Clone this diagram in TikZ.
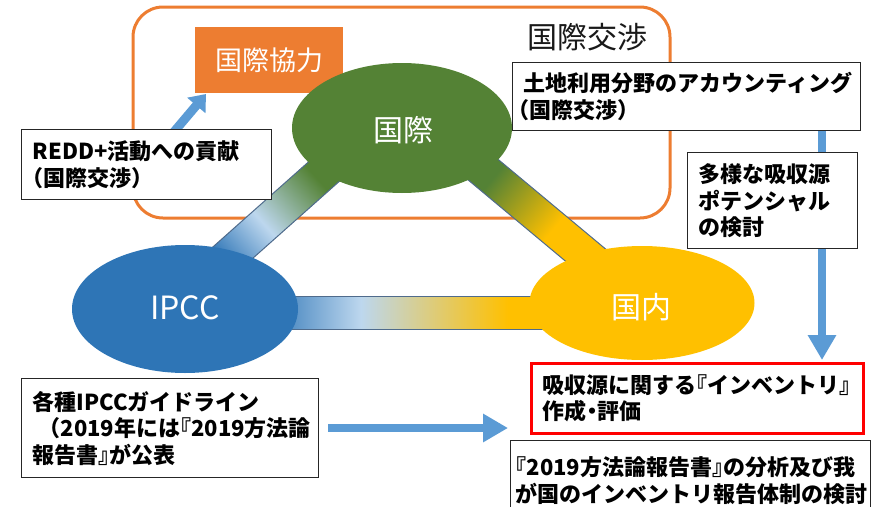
\documentclass[tikz,border=0pt]{standalone}
\usepackage{fontspec}
\setmainfont{Noto Sans CJK JP}
\usetikzlibrary{shapes.geometric,arrows.meta,calc}
\definecolor{orangeC}{HTML}{ED7D31}
\definecolor{greenC}{HTML}{548235}
\definecolor{blueC}{HTML}{2E75B6}
\definecolor{yellowC}{HTML}{FFC000}
\definecolor{lightC}{HTML}{BDD7EE}
\definecolor{arrowC}{HTML}{5B9BD5}
\definecolor{bandedgeC}{HTML}{4F6B8C}
\definecolor{boxedgeC}{HTML}{262626}
\pgfdeclarehorizontalshading{bandH}{100bp}{color(0bp)=(blueC); color(35bp)=(blueC); color(45bp)=(lightC); color(60bp)=(yellowC); color(100bp)=(yellowC)}
\pgfdeclarehorizontalshading{bandL}{100bp}{color(0bp)=(blueC); color(37bp)=(blueC); color(46bp)=(lightC); color(57bp)=(greenC); color(100bp)=(greenC)}
\pgfdeclarehorizontalshading{bandR}{100bp}{color(0bp)=(greenC); color(43bp)=(greenC); color(55bp)=(yellowC); color(100bp)=(yellowC)}
\pgfdeclarelayer{arrowlayer}
\pgfsetlayers{arrowlayer,main}
\newcommand\hw[1]{{\addfontfeature{RawFeature=+halt}#1}}
\begin{document}
\begin{tikzpicture}[x=1pt,y=-1pt,
  txtbox/.style={draw=boxedgeC, line width=1.4pt, fill=white, align=left,
    inner xsep=11pt, inner ysep=0pt, anchor=north west,
    font=\fontsize{22}{26.5}\selectfont\bfseries},
  oval/.style={ellipse, inner sep=0pt},
  ovaltext/.style={text=white, inner sep=0pt, font=\fontsize{30}{36}\selectfont},
  bluearrow/.style={draw=arrowC, line width=8.5pt, -{Triangle[length=25pt,width=27pt]}},
  bandstyle/.style={draw=bandedgeC, line width=1pt}
]
\useasboundingbox (0,0) rectangle (896,506);
% frame of international negotiation
\draw[orangeC, line width=3pt, rounded corners=30pt] (133,7) rectangle (670,218);
\node[font=\fontsize{30}{36}\selectfont, text=black!90, inner sep=0pt] (title) at (587,37) {国際交渉};
\node[fill=orangeC, minimum width=148pt, minimum height=66pt, anchor=north west,
  inner sep=0pt, text=white, font=\fontsize{27}{32}\selectfont] (coop) at (195,27) {国際協力};
% triangle bands
\coordinate (vL) at (165,313);
\coordinate (vT) at (402,102);
\coordinate (vR) at (655,313);
\begin{scope}[transform canvas={shift={(vL)}, rotate=41.66}]
  \shade[shading=bandL, bandstyle] (0,-17.5) rectangle (317,17.5);
\end{scope}
\begin{scope}[transform canvas={shift={(vT)}, rotate=-39.83}]
  \shade[shading=bandR, bandstyle] (0,-17.5) rectangle (329,17.5);
\end{scope}
\shade[shading=bandH, bandstyle] ($(vL)+(0,-16.5)$) rectangle ($(vR)+(0,16.5)$);
% ellipses
\node[oval, fill=greenC, minimum width=220pt, minimum height=130pt] (kok) at (402,128) {};
\node[ovaltext] (kokt) at (403,130) {国際};
\node[oval, fill=blueC, minimum width=226pt, minimum height=128pt] (ipcc) at (185,309) {};
\node[ovaltext, font=\fontsize{32}{36}\selectfont] (ipcct) at (185,308) {IPCC};
\node[oval, fill=yellowC, minimum width=225pt, minimum height=114pt] (nai) at (642,303) {};
\node[ovaltext] (nait) at (641,307) {国内};
% text boxes
\node[txtbox, text width=228pt, minimum height=70pt] (redd) at (21,129)
  {REDD+活動への貢献\\\hw{（}国際交渉\hw{）}};
\node[txtbox, text width=326pt, minimum height=68pt] (land) at (512,62)
  {土地利用分野のアカウンティング\\\hspace*{-5pt}\hw{（}国際交渉\hw{）}};
\node[txtbox, text width=148pt, minimum height=96pt] (pot) at (687,152)
  {多様な吸収源\\ポテンシャル\\の検討};
\node[txtbox, draw=red, line width=3pt, text width=310pt, minimum height=70pt] (inv) at (530,362)
  {吸収源に関する\hw{『}インベントリ\hw{』}\\作成\hw{・}評価};
\node[txtbox, inner xsep=5pt, text width=350pt, minimum height=80pt] (anal) at (510,440)
  {\hw{『}2019方法論報告書\hw{』}の分析及び我\\が国のインベントリ報告体制の検討};
\node[txtbox, text width=275pt, minimum height=99pt] (guide) at (21,378)
  {各種IPCCガイドライン\\\hspace*{6pt}（2019年には\hw{『}2019方法論\\報告書\hw{』}が公表};
% arrows (behind boxes)
\begin{pgfonlayer}{arrowlayer}
  \coordinate (a1s) at (173,133);
  \coordinate (a1e) at (206,94);
  \draw[draw=arrowC, line width=9pt, -{Triangle[length=15pt,width=23pt]}] (a1s) -- (a1e);
  \coordinate (vx) at (822,0);
  \draw[bluearrow] (land.south -| vx) -- ($(inv.north -| vx)+(0,-2)$);
  \coordinate (bstart) at (328,428);
  \coordinate (btip) at (508,428);
  \draw[bluearrow] (bstart) -- (btip);
\end{pgfonlayer}
\end{tikzpicture}
\end{document}
